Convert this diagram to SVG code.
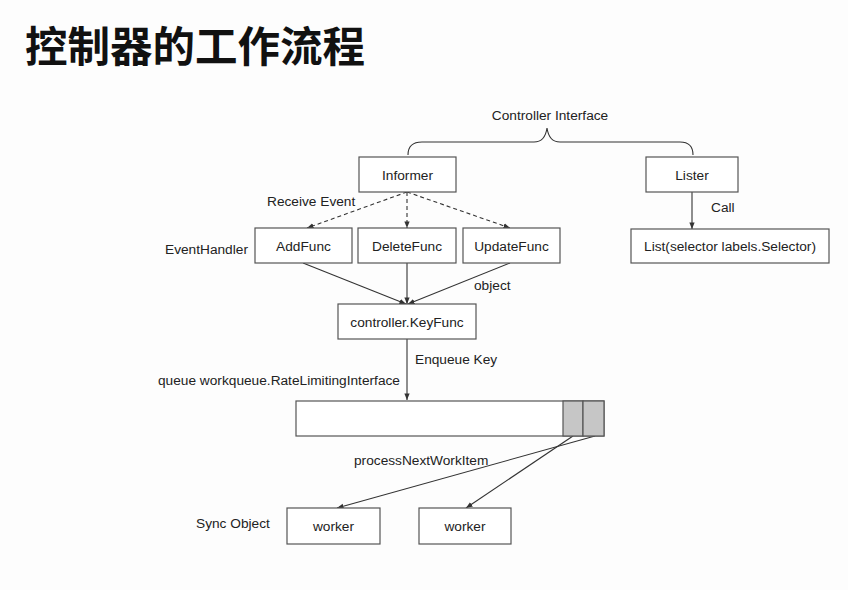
<svg xmlns="http://www.w3.org/2000/svg" width="848" height="590" viewBox="0 0 848 590">
<style>
.t{font-family:"Liberation Sans",Arial,sans-serif;font-size:13.7px;fill:#222}
.c{text-anchor:middle}
.box{fill:#fff;stroke:#555;stroke-width:1.2}
.ln{stroke:#333;stroke-width:1.1;fill:none}
.dash{stroke-dasharray:4 3}
</style>
<defs>
<marker id="ah" viewBox="0 0 10 10" refX="10" refY="5" markerWidth="6" markerHeight="6" orient="auto">
<path d="M0,1 L10,5 L0,9 z" fill="#333"/>
</marker>
</defs>
<rect width="848" height="590" fill="#fdfdfd"/>
<text x="25" y="62" font-family="'Noto Sans CJK SC',sans-serif" font-weight="bold" font-size="42.5" fill="#111">控制器的工作流程</text>

<g id="brace">
<path class="ln" d="M408,155 Q408,142 422,142 L534,142 Q545,142 547,128 Q549,142 560,142 L680,142 Q693,142 693,155"/>
<text class="t c" x="550" y="120">Controller Interface</text>
</g>

<g id="connectors">
<line class="ln dash" x1="407" y1="192" x2="307" y2="228" marker-end="url(#ah)"/>
<line class="ln dash" x1="407" y1="192" x2="407" y2="228" marker-end="url(#ah)"/>
<line class="ln dash" x1="407" y1="192" x2="510" y2="228" marker-end="url(#ah)"/>
<line class="ln" x1="303" y1="263" x2="406" y2="304" marker-end="url(#ah)"/>
<line class="ln" x1="407" y1="263" x2="407" y2="304" marker-end="url(#ah)"/>
<line class="ln" x1="510" y1="263" x2="408" y2="304" marker-end="url(#ah)"/>
<line class="ln" x1="407" y1="339" x2="407" y2="400" marker-end="url(#ah)"/>
<line class="ln" x1="692" y1="192" x2="692" y2="229" marker-end="url(#ah)"/>
<line class="ln" x1="595" y1="436" x2="337" y2="508" marker-end="url(#ah)"/>
<line class="ln" x1="573" y1="436" x2="466" y2="508" marker-end="url(#ah)"/>
<text class="t" x="267" y="206">Receive Event</text>
<text class="t" x="474" y="290">object</text>
<text class="t" x="415" y="364">Enqueue Key</text>
<text class="t" x="711" y="212">Call</text>
<text class="t" x="354" y="465">processNextWorkItem</text>
</g>

<g id="informer"><rect class="box" x="359" y="157" width="97" height="35"/><text class="t c" x="407.5" y="180">Informer</text></g>
<g id="lister"><rect class="box" x="646" y="157" width="92" height="35"/><text class="t c" x="692" y="180">Lister</text></g>
<g id="eventhandler-label"><text class="t" x="165" y="254">EventHandler</text></g>
<g id="addfunc"><rect class="box" x="255" y="228" width="97" height="35"/><text class="t c" x="303.5" y="251">AddFunc</text></g>
<g id="deletefunc"><rect class="box" x="358" y="228" width="98" height="35"/><text class="t c" x="407" y="251">DeleteFunc</text></g>
<g id="updatefunc"><rect class="box" x="463" y="228" width="97" height="35"/><text class="t c" x="511.5" y="251">UpdateFunc</text></g>
<g id="list"><rect class="box" x="631" y="229" width="198" height="34"/><text class="t c" x="730" y="251">List(selector labels.Selector)</text></g>
<g id="keyfunc"><rect class="box" x="338" y="304" width="138" height="35"/><text class="t c" x="407" y="327">controller.KeyFunc</text></g>
<g id="queue">
<text class="t" x="158" y="385">queue workqueue.RateLimitingInterface</text>
<rect class="box" x="296" y="401" width="308" height="35"/>
<rect x="563" y="401" width="20" height="35" fill="#c6c6c6" stroke="#555" stroke-width="1.2"/>
<rect x="583" y="401" width="21" height="35" fill="#c6c6c6" stroke="#555" stroke-width="1.2"/>
</g>
<g id="sync-label"><text class="t" x="196" y="528">Sync Object</text></g>
<g id="worker1"><rect class="box" x="287" y="508" width="93" height="36"/><text class="t c" x="333.5" y="531">worker</text></g>
<g id="worker2"><rect class="box" x="419" y="508" width="92" height="36"/><text class="t c" x="465" y="531">worker</text></g>
</svg>
